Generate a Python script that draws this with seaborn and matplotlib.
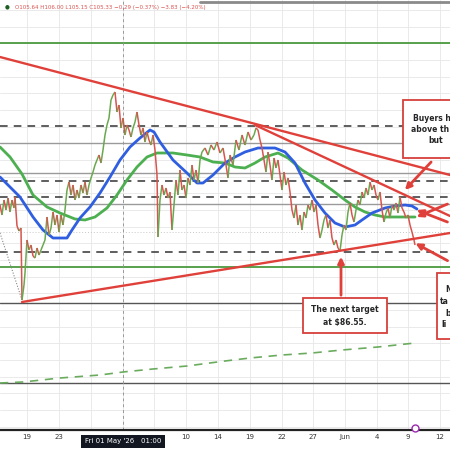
import numpy as np
import pandas as pd
import seaborn as sns
import matplotlib.pyplot as plt
from matplotlib.collections import LineCollection
from matplotlib.patches import Rectangle

sns.set_style("white")
plt.rcParams['font.family'] = ['DejaVu Sans']

RED = '#e0403a'
GREEN = '#4caf50'
BLUE = '#2f5fe0'

# hourly bar index (x) and price
bar_x = [0, 2, 4, 6, 8, 10, 12, 14, 15, 17, 19, 21, 22, 24, 25, 27, 29, 31, 33, 35,
         37, 39, 41, 43, 45, 47, 49, 51, 53, 55, 57, 59, 61, 63, 65, 67, 69, 71, 73, 75,
         77, 79, 81, 83, 85, 87, 89, 91, 93, 95, 97, 99, 101, 103, 105, 107, 109, 111, 113, 115,
         117, 119, 121, 123, 125, 127, 129, 131, 133, 135, 137, 139, 141, 143, 145, 147, 149, 151, 153, 155,
         157, 158, 160, 162, 164, 166, 168, 170, 172, 174, 176, 178, 180, 182, 184, 186, 188, 190, 192, 194,
         196, 198, 200, 202, 205, 208, 211, 214, 217, 220, 223, 226, 228, 230, 233, 236, 239, 242, 245, 248,
         251, 254, 256, 258, 260, 262, 264, 266, 268, 270, 272, 274, 276, 278, 280, 282, 284, 286, 288, 290,
         292, 294, 296, 298, 300, 302, 304, 306, 308, 310, 312, 314, 316, 318, 320, 322, 324, 326, 328, 330,
         332, 334, 336, 338, 340, 342, 344, 346, 348, 350, 352, 354, 356, 358, 360, 362, 364, 366, 368, 370,
         372, 374, 376, 378, 380, 382, 384, 386, 388, 390, 392, 394, 396, 398, 400, 402, 404, 406, 408, 410,
         412, 414, 415]
price = [91.25, 90.25, 91.75, 90.75, 91.95, 90.55, 91.75, 90.95, 92.05, 89.15, 88.65, 88.95, 81.75, 83.25, 84.45, 87.75, 86.75, 87.25, 86.15, 85.95,
         86.95, 86.25, 86.75, 87.25, 87.75, 90.05, 88.25, 88.95, 90.55, 89.25, 90.25, 88.55, 90.25, 89.25, 90.75, 92.75, 93.55, 92.25, 93.25, 91.75,
         92.75, 91.95, 93.25, 92.45, 93.55, 92.25, 93.25, 93.95, 94.55, 95.25, 95.75, 96.25, 95.45, 96.75, 98.25, 99.25, 99.95, 101.75, 102.25, 102.55,
         100.55, 101.25, 98.95, 99.95, 98.25, 99.25, 98.75, 98.05, 98.95, 99.55, 100.55, 99.25, 98.25, 98.95, 97.55, 98.55, 97.75, 97.25, 98.25, 96.75,
         94.25, 88.05, 91.75, 93.25, 92.25, 92.95, 91.95, 92.55, 88.75, 91.25, 93.75, 92.25, 94.75, 92.75, 93.25, 91.95, 93.95, 93.25, 95.25, 93.75,
         94.75, 93.45, 95.75, 96.55, 96.95, 96.25, 97.25, 96.75, 97.55, 96.45, 96.95, 95.25, 93.95, 96.25, 95.25, 97.75, 96.75, 98.25, 97.25, 98.55,
         97.75, 98.25, 98.95, 98.75, 97.75, 96.95, 95.75, 94.55, 96.55, 95.25, 93.75, 95.95, 94.95, 95.75, 94.25, 92.75, 94.55, 93.25, 93.95, 92.55,
         90.75, 89.95, 91.25, 89.25, 90.25, 88.75, 90.55, 89.95, 91.25, 90.75, 91.75, 90.55, 91.25, 89.25, 87.95, 88.75, 89.75, 90.25, 88.95, 89.75,
         87.95, 87.25, 87.75, 86.95, 86.65, 88.25, 89.25, 88.75, 90.55, 91.45, 90.25, 89.55, 90.75, 91.75, 91.25, 92.55, 91.95, 92.95, 92.25, 93.55,
         92.75, 93.25, 92.25, 91.75, 92.55, 90.75, 89.55, 90.45, 90.95, 89.95, 91.25, 90.75, 91.45, 90.45, 92.05, 90.95, 90.55, 89.95, 90.25, 89.25,
         88.55, 87.75, 87.25]

# 100-bar moving average (blue)
ma100_x = [0, 10, 20, 33, 43, 53, 67, 72, 80, 90, 100, 110, 120, 130, 140, 150, 154, 160, 173, 187,
           197, 203, 213, 225, 235, 245, 258, 275, 285, 295, 305, 315, 325, 335, 345, 355, 362, 372, 385, 395,
           405, 412, 417]
ma100 = [94.05, 93.05, 92.05, 90.05, 88.75, 87.95, 87.95, 88.75, 89.95, 91.05, 92.45, 94.05, 95.75, 97.05, 97.95, 98.75, 98.55, 97.55, 95.75, 94.45,
         93.45, 93.45, 94.25, 95.45, 96.05, 96.55, 96.95, 96.95, 96.55, 95.45, 93.45, 91.75, 90.45, 89.45, 89.05, 89.25, 89.75, 90.45, 90.95, 91.15,
         91.25, 91.15, 90.85]

# 200-bar moving average (green)
ma200_x = [0, 10, 22, 33, 47, 60, 75, 85, 95, 107, 117, 127, 137, 147, 157, 173, 187, 200, 213, 225,
           235, 245, 255, 265, 278, 288, 302, 318, 332, 345, 355, 365, 375, 385, 398, 415]
ma200 = [97.05, 96.05, 94.35, 92.25, 91.05, 90.45, 89.85, 89.75, 90.05, 90.95, 92.25, 93.75, 95.05, 96.05, 96.45, 96.45, 96.25, 96.05, 95.55, 95.45,
         95.05, 94.95, 95.45, 96.05, 96.45, 95.95, 94.75, 93.75, 92.75, 91.75, 91.05, 90.55, 90.25, 90.05, 90.05, 90.05]

# long moving average (green dashed)
ma_long_x = [0, 23, 60, 100, 123, 153, 187, 225, 250, 282, 312, 342, 378, 415]
ma_long = [73.45, 73.55, 73.95, 74.25, 74.55, 74.85, 75.15, 75.65, 75.95, 76.25, 76.45, 76.75, 77.05, 77.45]

# horizontal levels
green_levels = [107.45, 85.05]
dashed_levels = [99.15, 93.65, 92.05, 86.55]
light_levels = [97.45, 94.45, 91.35]
dark_levels = [81.45, 73.45]

# trend lines (x0, p0, x1, p1)
trend_lines = [(0, 106.05, 450, 94.25),
               (255, 99.25, 450, 90.15),
               (22, 81.55, 450, 88.45)]

# arrows (tail x, tail p, head x, head p)
arrows = [(433, 95.75, 403, 92.55),
          (450, 89.45, 414, 90.85),
          (450, 91.45, 414, 89.95),
          (450, 85.55, 413, 87.55),
          (341, 81.95, 341, 86.35)]

tick_pos = [27, 59, 91, 123, 154, 186, 218, 250, 282, 313, 345, 377, 408, 440]
tick_lab = ['19', '23', '', '', '', '10', '14', '19', '22', '27', 'Jun', '4', '9', '12']

fig = plt.figure(figsize=(4.5, 4.5), dpi=100)
ax = fig.add_axes([0, 20 / 450, 1, 430 / 450])
ax.set_xlim(0, 450)
ax.set_ylim(68.75, 111.75)

# grid
ax.set_xticks(tick_pos)
ax.set_xticklabels(tick_lab, fontsize=5, color='#333333')
ax.set_yticks(np.arange(110.75, 68.75, -1.667))
ax.grid(True, color='#e6e6e6', lw=0.6, zorder=0)
ax.tick_params(axis='x', length=0, pad=3)
ax.tick_params(axis='y', left=False, labelleft=False)
for s in ['top', 'left', 'right']:
    ax.spines[s].set_visible(False)
ax.spines['bottom'].set_color('#222222')
ax.spines['bottom'].set_linewidth(1.6)

# horizontal levels
for p in green_levels:
    ax.axhline(p, color='#4a9a3f', lw=1.3, zorder=2)
for p in dashed_levels:
    ax.axhline(p, color='#333333', lw=1.1, ls=(0, (5, 4)), zorder=2)
for p in light_levels:
    ax.axhline(p, color='#9a9a9a', lw=1.0, zorder=2)
for p in dark_levels:
    ax.axhline(p, color='#555555', lw=1.0, zorder=2)
ax.axhline(88.55, color='#c8c8c8', lw=0.7, ls=(0, (1, 2)), zorder=2)
ax.axvline(123, color='#999999', lw=0.7, ls=(0, (3, 3)), zorder=2)
ax.axhline(111.6, xmin=200 / 450, color='#8a8a8a', lw=2, zorder=2)

# dotted swing line into the low
ax.plot([0, 22], [88.45, 81.75], color='#888888', lw=0.8, ls=(0, (1, 1.5)), zorder=3)

# moving averages
df100 = pd.DataFrame({'x': ma100_x, 'p': ma100})
df200 = pd.DataFrame({'x': ma200_x, 'p': ma200})
dflong = pd.DataFrame({'x': ma_long_x, 'p': ma_long})
sns.lineplot(data=df200, x='x', y='p', color='#4caf50', lw=2, ax=ax, zorder=4)
sns.lineplot(data=df100, x='x', y='p', color=BLUE, lw=2, ax=ax, zorder=5)
sns.lineplot(data=dflong, x='x', y='p', color='#6aab5e', lw=1.2, ls=(0, (5, 4)), ax=ax, zorder=4)

# price bars
segs = [[(bar_x[i], price[i]), (bar_x[i + 1], price[i + 1])] for i in range(len(bar_x) - 1)]
cols = ['#6aa84f' if price[i + 1] >= price[i] else '#d9534f' for i in range(len(bar_x) - 1)]
ax.add_collection(LineCollection(segs, colors=cols, linewidths=1.1, zorder=6))

# trend lines
for x0, p0, x1, p1 in trend_lines:
    ax.plot([x0, x1], [p0, p1], color=RED, lw=1.7, zorder=7)

for tx, tp, hx, hp in arrows:
    ax.annotate('', xy=(hx, hp), xytext=(tx, tp),
                arrowprops=dict(arrowstyle='-|>', color=RED, lw=2, mutation_scale=9), zorder=9)

# annotation boxes (running off the right edge, as in the screenshot)
boxes = [(403, 95.95, 60, 5.8), (303, 78.45, 84, 3.5), (437, 77.85, 30, 6.6)]
for bx, by, bw, bh in boxes:
    ax.add_patch(Rectangle((bx, by), bw, bh, facecolor='white', edgecolor='#d6403a', lw=1.3, zorder=10))

ax.text(413, 99.9, 'Buyers h', fontsize=5.5, fontweight='bold', va='center', zorder=11)
ax.text(411, 98.8, 'above th', fontsize=5.5, fontweight='bold', va='center', zorder=11)
ax.text(428, 97.7, 'but', fontsize=5.5, fontweight='bold', va='center', zorder=11)
ax.text(345, 80.75, 'The next target', fontsize=5.5, fontweight='bold', ha='center', va='center', zorder=11)
ax.text(345, 79.55, 'at $86.55.', fontsize=5.5, fontweight='bold', ha='center', va='center', zorder=11)
for i, (xx, w) in enumerate([(445, 'N'), (440, 'ta'), (445, 'b'), (441, 'li')]):
    ax.text(xx, 82.75 - 1.15 * i, w, fontsize=5.5, fontweight='bold', va='center', zorder=11)

# header
ax.text(5, 111.05, '\u25cf', fontsize=4, color='#1b5e20', va='center')
ax.text(15, 111.05, 'O105.64 H106.00 L105.15 C105.33 \u22120.29 (\u22120.37%) \u22123.83 (\u22124.20%)',
        fontsize=4, color='#d9534f', va='center')

# crosshair date label
ax.text(123, -0.026, "Fri 01 May '26   01:00", transform=ax.get_xaxis_transform(),
        fontsize=5, color='white', ha='center', va='center',
        bbox=dict(boxstyle='square,pad=0.5', fc='#131722', ec='none'), clip_on=False)
ax.plot([415], [68.95], marker='o', ms=5, mfc='white', mec='#9c27b0', mew=1, clip_on=False, zorder=12)

ax.set_xlabel('')
ax.set_ylabel('')
fig.savefig('out.png', dpi=100, facecolor='white')
